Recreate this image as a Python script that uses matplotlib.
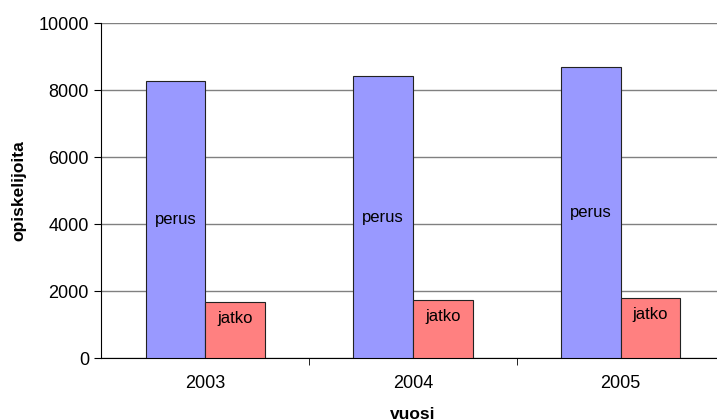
import matplotlib
matplotlib.use("Agg")
import matplotlib.pyplot as plt
import numpy as np

years = ["2003", "2004", "2005"]
perus = [8284, 8418, 8701]
jatko = [1672, 1731, 1791]

plt.rcParams['font.family'] = ['Liberation Sans', 'DejaVu Sans']

fig = plt.figure(figsize=(7.17, 4.2), dpi=100)
ax = fig.add_axes([0.1415, 0.1476, 0.869, 0.7976])

x = np.arange(len(years))
w = 0.287
ax.bar(x - w / 2, perus, width=w, color="#9999FF", edgecolor="#222222", linewidth=0.8, zorder=3)
ax.bar(x + w / 2, jatko, width=w, color="#FF8080", edgecolor="#222222", linewidth=0.8, zorder=3)

for i in range(len(years)):
    ax.text(x[i] - w / 2, perus[i] / 2, "perus", ha="center", va="center", fontsize=12, zorder=4)
    ax.text(x[i] + w / 2, jatko[i] - 480, "jatko", ha="center", va="center", fontsize=12, zorder=4)

ax.set_xlim(-0.5, 2.5)
ax.set_ylim(0, 10000)
ax.set_yticks(range(0, 10001, 2000))
ax.yaxis.grid(True, color="#808080", linewidth=1.0, zorder=0)
ax.set_axisbelow(True)

ax.set_xticks(x)
ax.set_xticklabels(years, fontsize=13)
ax.set_xticks([0.5, 1.5], minor=True)
ax.tick_params(axis="x", which="major", length=0, pad=12)
ax.tick_params(axis="x", which="minor", length=5, color="black")
ax.tick_params(axis="y", length=5, labelsize=13, color="black", pad=4)

for s in ["top", "right"]:
    ax.spines[s].set_visible(False)
ax.spines["left"].set_color("black")
ax.spines["bottom"].set_color("black")

ax.set_ylabel("opiskelijoita", fontsize=12.5, fontweight="bold", labelpad=9)
ax.set_xlabel("vuosi", fontsize=12.5, fontweight="bold", labelpad=11)

fig.savefig("out.png", dpi=100)
